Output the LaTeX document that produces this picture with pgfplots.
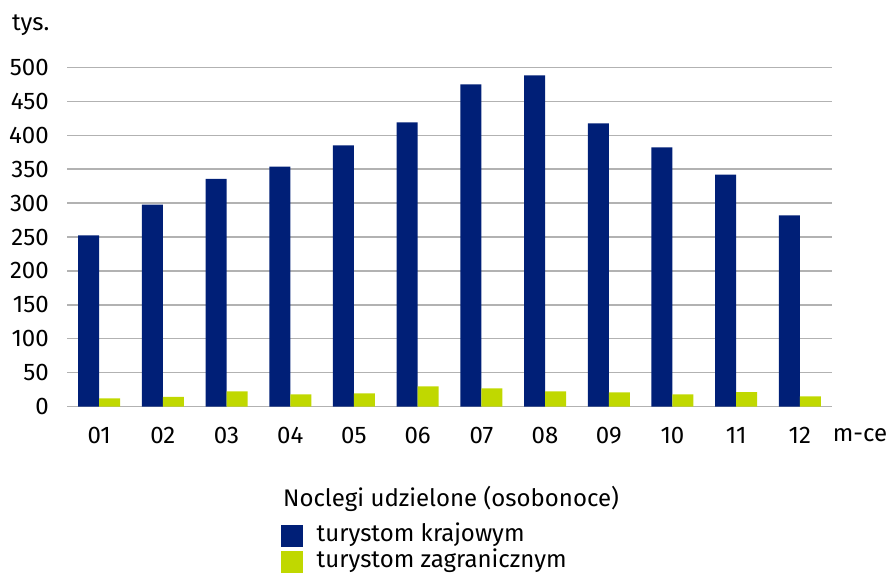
\documentclass[border=0pt]{standalone}
\usepackage{fontspec}
\setmainfont{Fira Sans}
\usepackage{pgfplots}
\pgfplotsset{compat=1.18}
\definecolor{krajblue}{RGB}{0,31,119}
\definecolor{zagrgreen}{RGB}{192,216,0}
\definecolor{gridgray}{RGB}{178,178,178}

\begin{document}
\begin{tikzpicture}
\begin{axis}[
    name=ax,
    scale only axis,
    width=764.4pt, height=339.4pt,
    ybar=0pt, bar width=21pt,
    xmin=0.5, xmax=12.5,
    ymin=0, ymax=500,
    ytick={0,50,...,500},
    xtick={1,...,12},
    xticklabels={01,02,03,04,05,06,07,08,09,10,11,12},
    axis line style={draw=none},
    ymajorgrids,
    major grid style={gridgray, line width=1.3pt},
    major tick length=0pt,
    tick label style={font=\fontsize{24}{28}\selectfont, text=black},
    /pgf/number format/assume math mode=true,
    yticklabel style={anchor=east, xshift=-15pt},
    xticklabel style={anchor=north, yshift=-17pt},
    legend cell align=left,
    legend style={
        draw=none, fill=none,
        at={(axis description cs:0.2757,0)}, anchor=north west,
        yshift=-114pt,
        row sep=0pt,
        font=\fontsize{24}{28}\selectfont,
        nodes={inner sep=1.5pt, text height=17pt, text depth=6pt},
    },
    legend image code/.code={\fill[#1] (0pt,-11pt) rectangle (22pt,11pt);},
]
\addplot[fill=krajblue, draw=none] coordinates {
    (1,252.5) (2,297.6) (3,335.5) (4,353.6) (5,385) (6,419)
    (7,475) (8,488) (9,417.5) (10,382) (11,341.8) (12,282)
};
\addlegendentry{\hspace{12pt}turystom krajowym}
\addplot[fill=zagrgreen, draw=none] coordinates {
    (1,12.3) (2,14.3) (3,22.6) (4,18.2) (5,19.7) (6,30)
    (7,27) (8,22.6) (9,21) (10,18.2) (11,21.6) (12,15.3)
};
\addlegendentry{\hspace{12pt}turystom zagranicznym}
\end{axis}
\path[use as bounding box] ([shift={(-67.3pt,-167.3pt)}]ax.south west)
    rectangle ([shift={(58.3pt,67.3pt)}]ax.north east);
\node[anchor=center, inner sep=0pt, font=\fontsize{24}{28}\selectfont]
    at ([shift={(383.7pt,-92.3pt)}]ax.south west) {Noclegi udzielone (osobonoce)};
\node[anchor=west, inner sep=0pt, font=\fontsize{24}{28}\selectfont]
    at ([shift={(-55.3pt,42.3pt)}]ax.north west) {tys.};
\node[anchor=west, inner sep=0pt, font=\fontsize{24}{28}\selectfont]
    at ([shift={(1pt,-28.5pt)}]ax.south east) {m-ce};
\end{tikzpicture}
\end{document}
